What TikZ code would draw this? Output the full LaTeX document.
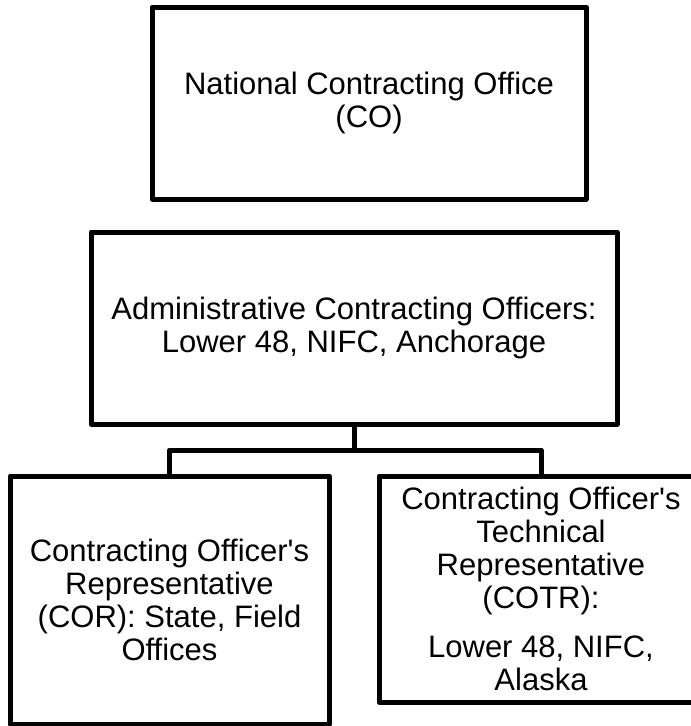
\documentclass[tikz,border=0pt]{standalone}
\usepackage{fontspec}
\setmainfont{Liberation Sans}
\begin{document}
\begin{tikzpicture}[x=1pt,y=-1pt,line join=round,line cap=butt]
		\tikzset{box/.style={draw,line width=5pt,rectangle,align=center,inner sep=0pt,
				font=\fontsize{31}{33}\selectfont},
			link/.style={line width=5pt}
		}
		\clip (0,0) rectangle (691,726);
		\node[box,minimum width=434pt,minimum height=192pt] (co) at (369,103)
			{National Contracting Office\\(CO)};
		\node[box,minimum width=526pt,minimum height=192pt] (aco) at (354,328)
			{Administrative Contracting Officers:\\Lower 48, NIFC, Anchorage};
		\node[box,minimum width=319pt,minimum height=248pt] (cor) at (169.5,600)
			{Contracting Officer\textquotesingle s\\Representative\\(COR): State, Field\\Offices};
		\node[box,minimum width=324pt,minimum height=226pt] (cotr) at (541,589)
			{Contracting Officer\textquotesingle s\\Technical\\Representative\\(COTR):\\[16pt]Lower 48, NIFC,\\Alaska};
		\coordinate (fork) at (354,450);
		\draw[link] (aco.south)--(fork)-|(cor.north);
		\draw[link] (fork)-|(cotr.north);
	\end{tikzpicture}
\end{document}
